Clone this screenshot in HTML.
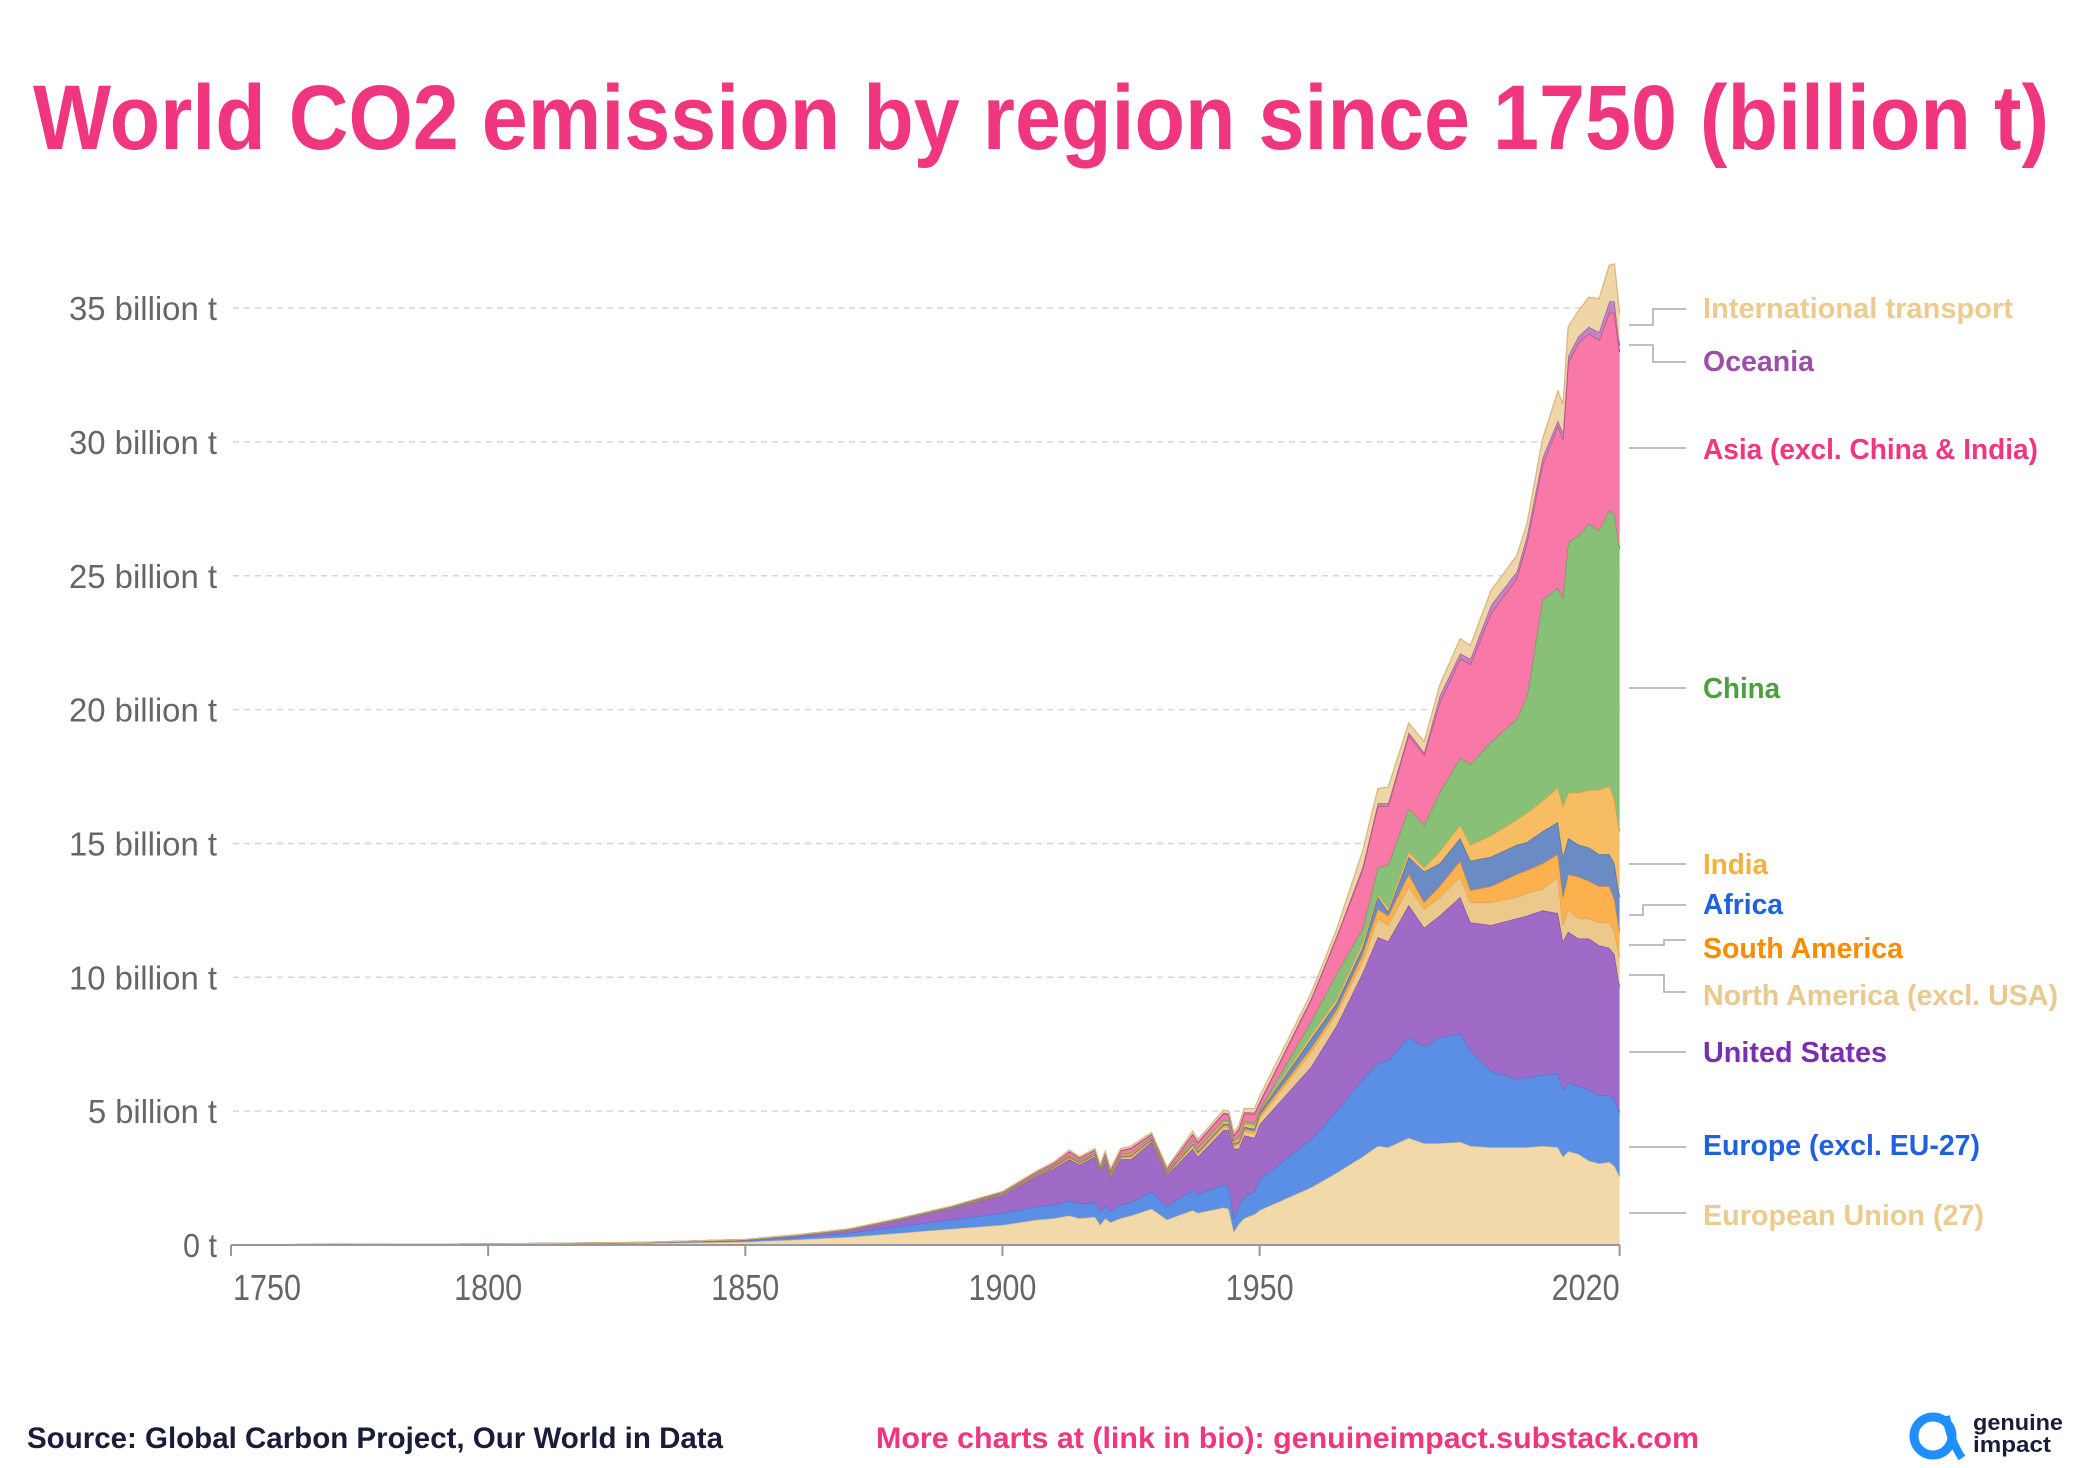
<!DOCTYPE html>
<html><head><meta charset="utf-8"><style>
html,body{margin:0;padding:0;background:#fff;}
svg{display:block;}
</style></head><body>
<svg id="s" width="2080" height="1468" xmlns="http://www.w3.org/2000/svg" font-family="Liberation Sans, sans-serif">
<rect width="2080" height="1468" fill="#fff"/>
<text x="1041" y="149" text-anchor="middle" font-size="92" font-weight="bold" fill="#f0367e" textLength="2016" lengthAdjust="spacingAndGlyphs">World CO2 emission by region since 1750 (billion t)</text>
<g id="grid"></g>
<g id="areas"></g>
<g id="axis"></g>
<g font-weight="bold" font-size="29">
<text x="1703" y="318" fill="#eccb8e" textLength="310" lengthAdjust="spacingAndGlyphs">International transport</text>
<text x="1703" y="371" fill="#9b4fa6" textLength="111" lengthAdjust="spacingAndGlyphs">Oceania</text>
<text x="1703" y="459" fill="#f0367e" textLength="335" lengthAdjust="spacingAndGlyphs">Asia (excl. China &amp; India)</text>
<text x="1703" y="698" fill="#4e9f3d" textLength="77" lengthAdjust="spacingAndGlyphs">China</text>
<text x="1703" y="874" fill="#f5b13a" textLength="65" lengthAdjust="spacingAndGlyphs">India</text>
<text x="1703" y="914" fill="#1f62e0" textLength="80" lengthAdjust="spacingAndGlyphs">Africa</text>
<text x="1703" y="958" fill="#ff8c00" textLength="200" lengthAdjust="spacingAndGlyphs">South America</text>
<text x="1703" y="1005" fill="#eac98e" textLength="355" lengthAdjust="spacingAndGlyphs">North America (excl. USA)</text>
<text x="1703" y="1062" fill="#7a2fb0" textLength="184" lengthAdjust="spacingAndGlyphs">United States</text>
<text x="1703" y="1155" fill="#1f62e0" textLength="277" lengthAdjust="spacingAndGlyphs">Europe (excl. EU-27)</text>
<text x="1703" y="1225" fill="#eccb8e" textLength="281" lengthAdjust="spacingAndGlyphs">European Union (27)</text>
</g>
<g stroke="#aaa" stroke-width="1.5" fill="none">
<polyline points="1629,325 1653,325 1653,309 1686,309"/>
<polyline points="1629,345 1653,345 1653,362 1686,362"/>
<polyline points="1629,448 1686,448"/>
<polyline points="1629,688 1686,688"/>
<polyline points="1629,864 1686,864"/>
<polyline points="1629,915 1643,915 1643,905 1686,905"/>
<polyline points="1629,945 1664,945 1664,940 1686,940"/>
<polyline points="1629,975 1664,975 1664,992 1686,992"/>
<polyline points="1629,1052 1686,1052"/>
<polyline points="1629,1147 1686,1147"/>
<polyline points="1629,1213 1686,1213"/>
</g>
<text x="27" y="1448" font-size="30" font-weight="bold" fill="#1a1d3a" textLength="696" lengthAdjust="spacingAndGlyphs">Source: Global Carbon Project, Our World in Data</text>
<text x="876" y="1448" font-size="30" font-weight="bold" fill="#f0367e" textLength="823" lengthAdjust="spacingAndGlyphs">More charts at (link in bio): genuineimpact.substack.com</text>
<circle cx="1933" cy="1436" r="19" fill="none" stroke="#1f8fff" stroke-width="9"/>
<path d="M1946 1416 Q1950 1440 1962 1458" stroke="#1f8fff" stroke-width="8" fill="none"/>
<text x="1973" y="1430" font-size="22" font-weight="bold" fill="#1a1d3a" textLength="90" lengthAdjust="spacingAndGlyphs">genuine</text>
<text x="1973" y="1452" font-size="22" font-weight="bold" fill="#1a1d3a" textLength="78" lengthAdjust="spacingAndGlyphs">impact</text>
</svg>
<script>
(function(){
var NS="http://www.w3.org/2000/svg";
function X(y){return 231+(y-1750)*5.143;}
function Y(v){return 1245-v*26.77;}
function el(p,t,a){var e=document.createElementNS(NS,t);for(var k in a)e.setAttribute(k,a[k]);p.appendChild(e);return e;}
var grid=document.getElementById('grid'),axis=document.getElementById('axis'),areas=document.getElementById('areas');
var yl=[["0 t",34],["5 billion t",129],["10 billion t",148],["15 billion t",148],["20 billion t",148],["25 billion t",148],["30 billion t",148],["35 billion t",148]];
for(var i=0;i<8;i++){var yy=Y(i*5);
 if(i>0)el(grid,'line',{x1:233,x2:1620,y1:yy,y2:yy,stroke:'#d6d6d6','stroke-width':1.5,'stroke-dasharray':'6,5'});
 var t=el(axis,'text',{x:217,y:yy+12,'text-anchor':'end','font-size':33,fill:'#666',textLength:yl[i][1],lengthAdjust:'spacingAndGlyphs'});t.textContent=yl[i][0];}
el(axis,'line',{x1:231,x2:1620,y1:1245,y2:1245,stroke:'#999','stroke-width':2});
var xt=[[1750,'start'],[1800,'middle'],[1850,'middle'],[1900,'middle'],[1950,'middle'],[2020,'end']];
xt.forEach(function(a){var x=X(a[0]);el(axis,'line',{x1:x,x2:x,y1:1245,y2:1256,stroke:'#999','stroke-width':2});
 var t=el(axis,'text',{x:x+(a[1]=='start'?2:0),y:1300,'text-anchor':a[1],'font-size':36,fill:'#666',textLength:68,lengthAdjust:'spacingAndGlyphs'});t.textContent=a[0];});
var pre={1750:[0.005,0.006,0.007,0.01],1800:[0.025,0.03,0.032,0.04],1830:[0.07,0.08,0.085,0.1],1850:[0.12,0.17,0.19,0.21],1860:[0.2,0.3,0.35,0.38],1870:[0.3,0.45,0.55,0.6],1880:[0.45,0.7,0.95,1.0],1890:[0.6,0.95,1.35,1.45],1900:[0.75,1.2,1.85,2.0],1907:[0.95,1.45,2.6,2.8],1910:[1.0,1.5,2.85,3.1],1913:[1.1,1.65,3.2,3.55],1915:[1.0,1.55,3.0,3.3],1918:[1.05,1.6,3.3,3.6],1919:[0.75,1.25,2.75,3.0],1920:[1.0,1.45,3.1,3.5],1921:[0.85,1.25,2.5,2.85],1923:[1.0,1.5,3.2,3.6],1925:[1.1,1.6,3.2,3.7],1929:[1.35,2.0,3.85,4.2],1932:[0.95,1.45,2.6,2.9],1937:[1.3,2.05,3.6,4.25],1938:[1.2,1.9,3.3,3.95],1943:[1.4,2.25,4.3,5.05],1944:[1.35,2.2,4.3,5.0],1945:[0.5,1.0,3.6,4.2],1946:[0.8,1.45,3.6,4.5],1947:[1.0,1.8,4.1,5.1],1949:[1.15,2.0,4.0,5.1]};
var prop=[0.15,0.08,0.08,0.12,0.08,0.3,0.05,0.14];
var D={};
for(var k in pre){var a=pre[k],r=a[3]-a[2],c=[a[0],a[1],a[2]],s=a[2];for(var j=0;j<8;j++){s+=r*prop[j];c.push(s);}D[k]=c;}
var post={1950:[1.3,2.45,4.5,4.75,4.85,4.95,5.0,5.05,5.3,5.35,5.55],
1960:[2.15,3.95,6.65,7.2,7.35,7.7,7.85,8.35,9.15,9.2,9.4],
1965:[2.7,5.0,8.2,8.65,8.8,9.05,9.2,10.15,11.5,11.55,11.8],
1970:[3.3,6.2,10.15,10.6,10.85,11.1,11.3,11.8,14.0,14.1,14.7],
1973:[3.7,6.8,11.5,12.2,12.55,13.0,13.1,14.1,16.4,16.5,17.05],
1975:[3.65,6.9,11.35,11.95,12.3,12.45,12.6,14.2,16.4,16.5,17.1],
1979:[4.0,7.75,12.7,13.4,13.85,14.5,14.7,16.3,19.05,19.15,19.5],
1982:[3.8,7.4,11.85,12.55,12.8,13.95,14.1,15.7,18.3,18.4,18.8],
1985:[3.8,7.75,12.3,13.0,13.4,14.25,14.7,16.9,20.25,20.5,20.9],
1989:[3.85,7.9,13.0,13.75,14.35,15.2,15.7,18.2,21.9,22.1,22.65],
1991:[3.7,7.25,12.05,12.8,13.25,14.35,14.95,17.95,21.7,21.9,22.4],
1995:[3.65,6.5,11.95,12.8,13.4,14.5,15.3,18.8,23.6,23.9,24.45],
2000:[3.65,6.2,12.2,13.0,13.85,14.95,15.9,19.65,24.9,25.15,25.75],
2002:[3.65,6.25,12.3,13.15,14.0,15.05,16.15,20.5,26.25,26.5,26.95],
2005:[3.7,6.35,12.5,13.3,14.25,15.45,16.6,24.1,29.15,29.4,30.1],
2008:[3.65,6.4,12.4,13.75,14.6,15.8,17.1,24.55,30.6,30.8,31.9],
2009:[3.3,5.8,11.35,11.95,13.0,14.5,16.4,24.2,30.1,30.35,31.4],
2010:[3.5,6.05,11.7,12.55,13.85,15.2,16.9,26.25,32.95,33.2,34.3],
2012:[3.4,5.95,11.45,12.2,13.75,14.95,16.9,26.5,33.7,33.95,34.9],
2014:[3.15,5.8,11.45,12.2,13.6,14.85,17.0,26.95,34.05,34.3,35.4],
2016:[3.05,5.6,11.2,12.05,13.4,14.6,17.0,26.7,33.8,34.1,35.35],
2018:[3.1,5.6,11.1,12.05,13.4,14.6,17.15,27.45,34.85,35.25,36.6],
2019:[2.95,5.45,10.85,11.7,12.9,14.25,16.65,27.3,34.8,35.25,36.65],
2020:[2.55,4.95,9.65,10.75,11.7,13.0,15.45,26.0,33.35,33.6,34.8]};
for(var k2 in post)D[k2]=post[k2];
var keys=Object.keys(D).map(Number).sort(function(a,b){return a-b;});
var yrs=[],vals=[];
for(var y=1750;y<=2020;y++){var i0=0;while(i0<keys.length-1&&keys[i0+1]<=y)i0++;var ka=keys[i0],kb=keys[Math.min(i0+1,keys.length-1)];var f=kb==ka?0:(y-ka)/(kb-ka);var v=[];for(var j2=0;j2<11;j2++)v.push(D[ka][j2]+(D[kb][j2]-D[ka][j2])*f);yrs.push(y);vals.push(v);}
var fills=['#f1d9aa','#5b8fe6','#9f6bc6','#ecc88a','#fdb04e','#6a8bc3','#f6bd62','#88c077','#f878a8','#c084c4','#f0d5a6'];
var lines=['#d8b878','#4a78c8','#7f4ea8','#d0a860','#e08f2a','#4f6fa6','#d9a040','#6a9d5a','#b8506f','#9a5c9e','#d8b880'];
for(var L=0;L<11;L++){var upper=[],lower=[];
 for(var n=0;n<yrs.length;n++){upper.push(X(yrs[n]).toFixed(1)+','+Y(vals[n][L]).toFixed(1));lower.push(X(yrs[n]).toFixed(1)+','+Y(L?vals[n][L-1]:0).toFixed(1));}
 el(areas,'polygon',{points:upper.join(' ')+' '+lower.reverse().join(' '),fill:fills[L]});
 el(areas,'polyline',{points:upper.join(' '),fill:'none',stroke:lines[L],'stroke-width':1.3});}
})();
</script>
</body></html>
